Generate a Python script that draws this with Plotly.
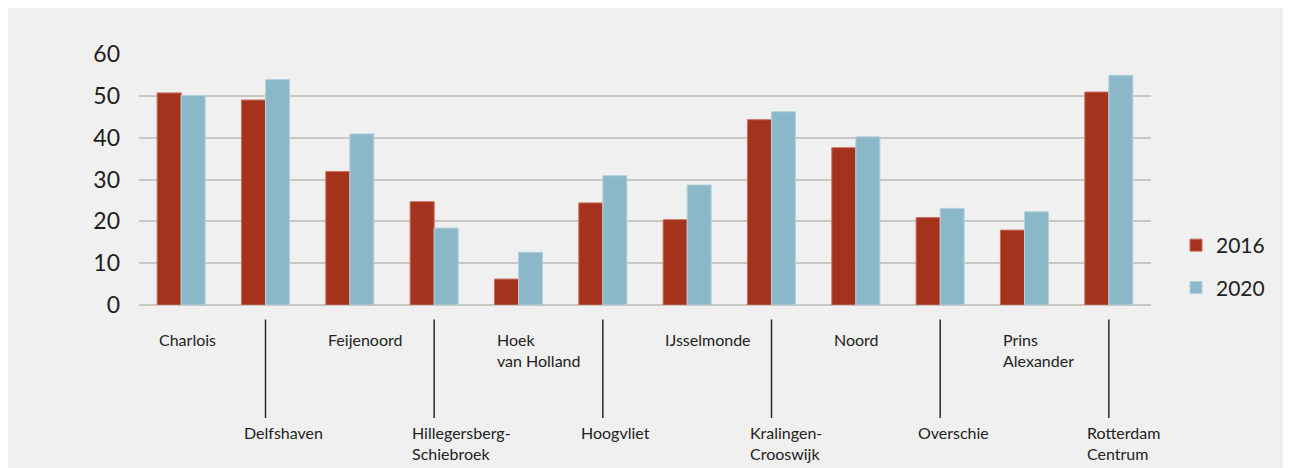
import plotly.graph_objects as go

districts = ["Charlois", "Delfshaven", "Feijenoord", "Hillegersberg-Schiebroek",
             "Hoek van Holland", "Hoogvliet", "IJsselmonde", "Kralingen-Crooswijk",
             "Noord", "Overschie", "Prins Alexander", "Rotterdam Centrum"]
tick_labels = ["Charlois", "Delfshaven", "Feijenoord", "Hillegersberg-<br>Schiebroek",
               "Hoek<br>van Holland", "Hoogvliet", "IJsselmonde", "Kralingen-<br>Crooswijk",
               "Noord", "Overschie", "Prins<br>Alexander", "Rotterdam<br>Centrum"]
values_2016 = [50.7, 49.0, 31.9, 24.7, 6.2, 24.4, 20.4, 44.3, 37.6, 20.9, 17.9, 50.9]
values_2020 = [50.1, 53.9, 40.9, 18.4, 12.6, 30.9, 28.7, 46.2, 40.2, 23.1, 22.3, 54.9]
y_ticks = [0, 10, 20, 30, 40, 50, 60]

# page offset caused by the default body margin
OFF = 8
W, H = 1291, 468
L, T = 139 - OFF, 54 - OFF
B = H - (305 - OFF)
R = W - (1151 - OFF)
pw = W - L - R
ph = H - T - B

def px_x(p):
    return (p - OFF - L) / pw

def px_y(p):
    return (H - B - (p - OFF)) / ph

FONT = "Lato"
BG = "#f0f0f0"

fig = go.Figure()
fig.add_trace(go.Bar(x=districts, y=values_2016, name="2016",
                     marker=dict(color="#a5321c", line=dict(color="#c9705e", width=1)),
                     legendgroup="a"))
fig.add_trace(go.Bar(x=districts, y=values_2020, name="2020",
                     marker=dict(color="#8bb8c9", line=dict(color="#b3d2de", width=1)),
                     legendgroup="b"))

annotations = []
shapes = []
n = len(districts)
offset = 24 / (pw / n)
for i, lab in enumerate(tick_labels):
    top_row = (i % 2 == 0)
    annotations.append(dict(
        x=i - offset, xref="x", xanchor="left",
        y=px_y(328 if top_row else 421), yref="paper", yanchor="top",
        text=lab, showarrow=False, align="left",
        font=dict(family=FONT, size=16, color="#222222")))
    if not top_row:
        shapes.append(dict(type="line", xref="x", yref="paper",
                           x0=i, x1=i, y0=px_y(319.5), y1=px_y(418),
                           line=dict(color="#2a2a2a", width=1.5)))

fig.update_layout(
    width=W, height=H,
    margin=dict(l=L, r=R, t=T, b=B, autoexpand=False),
    paper_bgcolor=BG, plot_bgcolor=BG,
    barmode="group", bargap=0.43, bargroupgap=0,
    font=dict(family=FONT, color="#222222"),
    showlegend=True,
    legend=dict(x=px_x(1176), xanchor="left", y=px_y(225), yanchor="top",
                font=dict(family=FONT, size=21, color="#222222"),
                traceorder="grouped", tracegroupgap=12,
                bgcolor="rgba(0,0,0,0)"),
    annotations=annotations,
    shapes=shapes,
)
fig.update_xaxes(range=[-0.5, n - 0.5], autorange=False,
                 showticklabels=False, showgrid=False, showline=False, zeroline=False,
                 ticks="")
fig.update_yaxes(range=[0, 60], tickvals=y_ticks, ticktext=[str(v) for v in y_ticks],
                 showgrid=True, gridcolor="#c9c7c1", gridwidth=1.5,
                 zeroline=True, zerolinecolor="#c9c7c1", zerolinewidth=2,
                 showline=False, ticks="", ticklabelstandoff=18,
                 tickfont=dict(family=FONT, size=23, color="#1e1e1e"))

fig.write_html("out.html")
